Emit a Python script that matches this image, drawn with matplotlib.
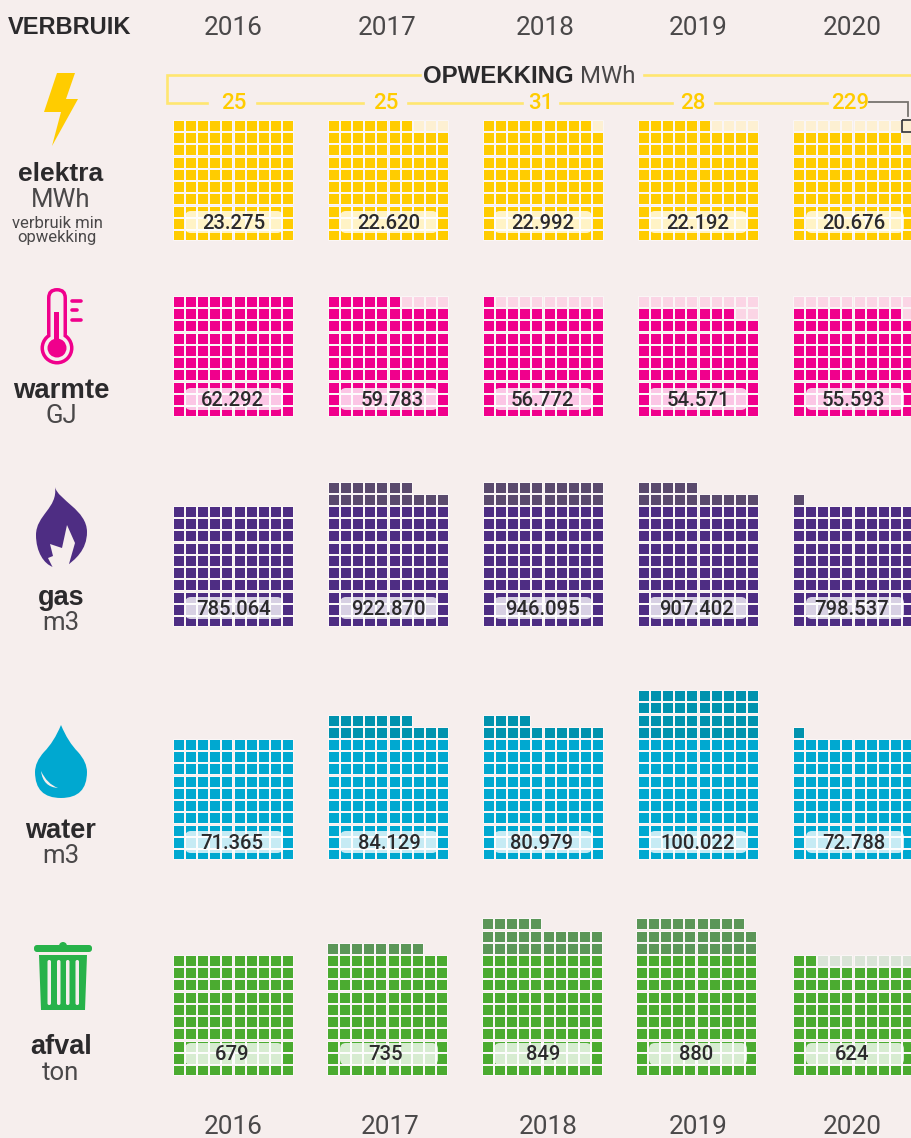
import matplotlib
matplotlib.use('Agg')
import matplotlib.pyplot as plt
from matplotlib.patches import Rectangle, FancyBboxPatch, Circle, PathPatch, Polygon
from matplotlib.path import Path

bg = '#f6eeed'
dark = '#2b2a2c'
grey = '#4a4849'

years = ['2016', '2017', '2018', '2019', '2020']

# squares per year (100 = full base block)
elektra_n = [100, 97, 99, 96, 89]
warmte_n = [100, 96, 91, 88, 89]
gas_n = [100, 117, 120, 115, 101]
water_n = [100, 117, 114, 140, 101]
afval_n = [100, 108, 125, 129, 92]

elektra_lab = ['23.275', '22.620', '22.992', '22.192', '20.676']
warmte_lab = ['62.292', '59.783', '56.772', '54.571', '55.593']
gas_lab = ['785.064', '922.870', '946.095', '907.402', '798.537']
water_lab = ['71.365', '84.129', '80.979', '100.022', '72.788']
afval_lab = ['679', '735', '849', '880', '624']

opwekking = ['25', '25', '31', '28', '229']

rows = [
    # counts, labels, main, extra, pale, row0 top, pill y, block x, text x
    (elektra_n, elektra_lab, '#ffcc00', '#ffcc00', '#fdf0d2', 231, 222,
     [174, 329, 484, 639, 794], [234, 389, 543, 698, 854]),
    (warmte_n, warmte_lab, '#f0008c', '#f0008c', '#fbd5e5', 407, 399,
     [174, 329, 484, 639, 794], [232, 392, 542, 698, 853]),
    (gas_n, gas_lab, '#4e2d83', '#5a4a6d', '#e0d8e6', 617, 608,
     [174, 329, 484, 639, 794], [234, 388, 543, 697, 852]),
    (water_n, water_lab, '#00a8d0', '#0092ae', '#cdeaf2', 850, 842,
     [174, 329, 484, 639, 794], [232, 389, 542, 698, 854]),
    (afval_n, afval_lab, '#4bab30', '#5b9658', '#d9e3d6', 1066, 1054,
     [174, 328, 483, 637, 794], [232, 386, 543, 696, 852]),
]
pill_x = [234, 389, 543, 698, 855]

plt.rcParams['font.family'] = ['Liberation Sans', 'DejaVu Sans']

fig = plt.figure(figsize=(9.12, 11.38), dpi=100, facecolor=bg)
ax = fig.add_axes([0, 0, 1, 1])
ax.set_xlim(0, 912)
ax.set_ylim(1138, 0)
ax.axis('off')


def label(x, y, s, size, color=dark, weight='normal', ha='center', family=None):
    ax.text(x, y, s, fontsize=size, color=color, fontweight=weight, ha=ha,
            va='center_baseline', family=family or ['Liberation Sans', 'DejaVu Sans'], zorder=6)


light = ['Roboto', 'Liberation Sans']

# waffle blocks
for counts, labs, main, extra, pale, top0, pill_y, xs, text_x in rows:
    for j in range(5):
        n = counts[j]
        for i in range(max(n, 100)):
            row = i // 10
            col = i % 10
            x = round(xs[j] + col * 12.11)
            y = round(top0 - row * 12.22)
            h = 9 if row == 0 else 10
            if i >= n:
                c = pale
            elif i >= 100:
                c = extra
            else:
                c = main
            # light halo, the gaps between squares are paler than the page
            ax.add_patch(Rectangle((x - 0.7, y - 0.7), 11.4, h + 1.4, fc='#fdfafa', ec='none', zorder=1.5, snap=False))
            ax.add_patch(Rectangle((x, y), 10, h, fc=c, ec='none', zorder=2, snap=False))
        ax.add_patch(FancyBboxPatch((pill_x[j] - 49, pill_y - 11), 98, 22,
                                    boxstyle='round,pad=0,rounding_size=6',
                                    fc='white', ec='none', alpha=0.78, zorder=4))
        label(text_x[j], pill_y - 1, labs[j], 14.6, weight='medium', family=['Roboto', 'Liberation Sans'])

# years
for s, x in zip(years, [233, 387, 545, 698, 852]):
    label(x, 25, s, 18.8, color=grey, family=light)
for s, x in zip(years, [233, 390, 548, 698, 852]):
    label(x, 1125, s, 18.8, color=grey, family=light)
label(8, 25, 'VERBRUIK', 17, weight='bold', ha='left')

# opwekking bracket
line_c = '#ffe670'
ax.plot([420, 167, 167, 207], [75, 75, 103, 103], color=line_c, lw=1.9, solid_joinstyle='miter', zorder=1)
ax.plot([644, 912], [75, 75], color=line_c, lw=1.9, zorder=1)
for x0, x1 in [(257, 363), (408, 522), (560, 672), (715, 827)]:
    ax.plot([x0, x1], [103, 103], color=line_c, lw=1.9, zorder=1)
label(574, 74, 'OPWEKKING', 17.3, weight='bold', ha='right')
label(580, 74, 'MWh', 17.3, color=grey, ha='left', family=light)
for s, x in zip(opwekking, [234, 386, 541, 693, 850]):
    label(x, 101, s, 16, color='#ffcc00', weight='medium', family=light)
ax.plot([869, 908, 908], [102, 102, 116], color='#77746f', lw=1.3, solid_joinstyle='miter', zorder=3)
ax.add_patch(Rectangle((902, 120), 14, 12, fc='none', ec='#333333', lw=1.2, zorder=5))

# row titles
label(61, 171, 'elektra', 19, weight='bold')
label(61, 197, 'MWh', 18.5, color=grey, family=light)
label(57, 222, 'verbruik min', 12, color=grey, family=light)
label(57, 236, 'opwekking', 12, color=grey, family=light)
label(61, 388, 'warmte', 19.8, weight='bold')
label(61, 413, 'GJ', 18.5, color=grey, family=light)
label(61, 595, 'gas', 19.5, weight='bold')
label(61, 620, 'm3', 18.5, color=grey, family=light)
label(61, 828, 'water', 19.5, weight='bold')
label(61, 853, 'm3', 18.5, color=grey, family=light)
label(61, 1044, 'afval', 19.5, weight='bold')
label(61, 1070, 'ton', 18.5, color=grey, family=light)

# icons
ax.add_patch(Polygon([(57, 73), (75, 73), (66, 99), (78, 99), (52, 146), (61, 112), (44, 112)],
                     closed=True, fc='#ffcc00', ec='none'))

pink = '#f0008c'
ax.add_patch(FancyBboxPatch((47, 288), 20, 55, boxstyle='round,pad=0,rounding_size=10', fc=pink, ec='none'))
ax.add_patch(Circle((57, 348), 16.5, fc=pink, ec='none'))
ax.add_patch(Circle((57, 348), 13, fc=bg, ec='none', zorder=3))
ax.add_patch(FancyBboxPatch((50.5, 291.5), 13, 50, boxstyle='round,pad=0,rounding_size=6.5', fc=bg, ec='none', zorder=3))
ax.add_patch(Circle((57, 348), 9.5, fc=pink, ec='none', zorder=4))
ax.add_patch(Rectangle((54, 312), 5, 30, fc=pink, ec='none', zorder=4))
ax.plot([72, 81], [301, 301], color=pink, lw=2.6, solid_capstyle='round')
ax.plot([72, 77], [310, 310], color=pink, lw=2.6, solid_capstyle='round')
ax.plot([72, 81], [320, 320], color=pink, lw=2.6, solid_capstyle='round')

flame = Path([(55, 487),
              (58, 500), (87, 510), (87, 532),
              (87, 550), (75, 560), (65, 567),
              (53, 567),
              (44, 564), (36, 552), (36, 535),
              (36, 515), (58, 508), (55, 487),
              (55, 487)],
             [Path.MOVETO,
              Path.CURVE4, Path.CURVE4, Path.CURVE4,
              Path.CURVE4, Path.CURVE4, Path.CURVE4,
              Path.LINETO,
              Path.CURVE4, Path.CURVE4, Path.CURVE4,
              Path.CURVE4, Path.CURVE4, Path.CURVE4,
              Path.CLOSEPOLY])
ax.add_patch(PathPatch(flame, fc='#4e2d83', ec='none'))
ax.add_patch(Polygon([(69, 564), (75, 543), (67, 525), (62, 548), (50, 544), (53, 556), (48, 558),
                      (53, 568), (69, 568)], closed=True, fc=bg, ec='none', zorder=3))

drop = Path([(61, 725), (68, 742), (78, 752), (87, 762), (87, 772), (87, 798), (61, 798),
             (35, 798), (35, 772), (35, 762), (44, 752), (54, 742), (61, 725), (61, 725)],
            [Path.MOVETO, Path.CURVE3, Path.CURVE3, Path.CURVE3, Path.CURVE3, Path.CURVE3, Path.CURVE3,
             Path.CURVE3, Path.CURVE3, Path.CURVE3, Path.CURVE3, Path.CURVE3, Path.CURVE3, Path.CLOSEPOLY])
ax.add_patch(PathPatch(drop, fc='#00a8d0', ec='none'))
shine = Path([(41, 771), (43, 787), (58, 788), (47, 784), (41, 771), (41, 771)],
             [Path.MOVETO, Path.CURVE3, Path.CURVE3, Path.CURVE3, Path.CURVE3, Path.CLOSEPOLY])
ax.add_patch(PathPatch(shine, fc=bg, ec='none', zorder=3))

green = '#27b24a'
ax.add_patch(FancyBboxPatch((34, 945), 58, 7, boxstyle='round,pad=0,rounding_size=3', fc=green, ec='none'))
ax.add_patch(Circle((63, 946), 4, fc=green, ec='none'))
ax.add_patch(Polygon([(39, 955), (87, 955), (85, 1010), (41, 1010)], closed=True, fc=green, ec='none'))
for x in [47.5, 57, 66, 75.5]:
    ax.add_patch(FancyBboxPatch((x, 960), 3.5, 45, boxstyle='round,pad=0,rounding_size=1.7', fc=bg, ec='none', zorder=3))

fig.savefig('out.png', dpi=100, facecolor=bg)
